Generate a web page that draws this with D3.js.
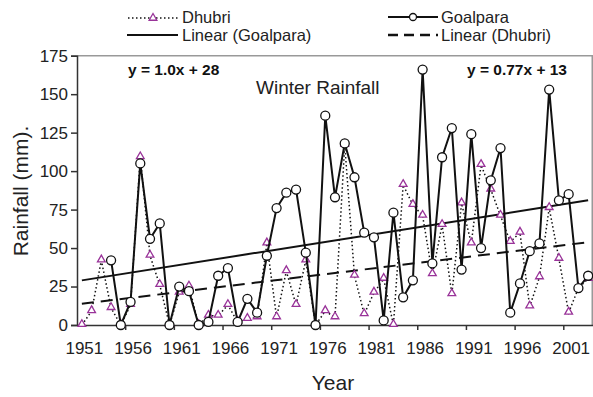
<!DOCTYPE html>
<html>
<head>
<meta charset="utf-8">
<style>
    body { margin: 0; background: white; }
    svg { font-family: 'Liberation Sans', Arial, sans-serif; }
</style>
</head>
<body>
<svg width="593" height="397"></svg>
<script src="https://d3js.org/d3.v7.min.js"></script>
<script>
    // years 1951..2003 (53 categories)
    let years = d3.range(1951, 2004)
    let labelYears = [1951, 1956, 1961, 1966, 1971, 1976, 1981, 1986, 1991, 1996, 2001]

    // Goalpara winter rainfall (mm), no record for 1951-53
    let goalpara = [null, null, null, 42, 0, 15, 105, 56, 66, 0,
        25, 22, 0, 2, 32, 37, 2, 17, 8, 45,
        76, 86, 88, 47, 0, 136, 83, 118, 96, 60,
        57, 3, 73, 18, 29, 166, 40, 109, 128, 36,
        124, 50, 94, 115, 8, 27, 48, 53, 153, 81,
        85, 24, 32]

    // Dhubri winter rainfall (mm)
    let dhubri = [0, 9, 42, 11, 0, 13, 109, 45, 26, 0,
        21, 25, 0, 6, 6, 13, 2, 4, 5, 53,
        5, 35, 13, 42, 0, 9, 5, 117, 32, 7,
        21, 30, 0, 91, 78, 71, 33, 65, 20, 79,
        53, 104, 88, 71, 54, 60, 12, 31, 76, 43,
        8, 24, 30]

    // trendline coefficients shown on the chart (x = category number)
    let trendGoalpara = [1.0, 28]
    let trendDhubri = [0.77, 13]

    let svg = d3.select("svg")
    let plotLeft = 77, plotRight = 593, plotTop = 55.7, plotBottom = 325

    let x = d3.scaleBand().domain(years).range([plotLeft, plotRight])
    let cx = d => x(d) + x.bandwidth() / 2
    let y = d3.scaleLinear().domain([0, 175]).range([plotBottom, plotTop])

    // plot frame (top + right)
    svg.append("path")
        .attr("d", `M${plotLeft},${plotTop}H${plotRight - 0.75}V${plotBottom}`)
        .attr("fill", "none")
        .attr("stroke", "#999")
        .attr("stroke-width", 1.5)

    // y axis
    let yAxis = svg.append("g")
        .attr("transform", `translate(${plotLeft},0)`)
        .call(d3.axisLeft(y).tickValues(d3.range(0, 176, 25)).tickSize(6).tickPadding(3))
    yAxis.selectAll("text").attr("font-size", 17).attr("fill", "#222")
    yAxis.selectAll("line, path").attr("stroke", "#333").attr("stroke-width", 1.5)

    // x axis: labels on categories, ticks between categories
    let xAxis = svg.append("g")
        .attr("transform", `translate(0,${plotBottom})`)
        .call(d3.axisBottom(x).tickValues(labelYears).tickSize(0).tickPadding(17))
    xAxis.selectAll("text").attr("font-size", 17).attr("fill", "#222").attr("dx", 2.5)
    xAxis.select(".domain").attr("stroke", "#333").attr("stroke-width", 1.5)
    xAxis.selectAll(".boundary")
        .data(labelYears.slice(1))
        .join("line")
        .attr("x1", d => x(d)).attr("x2", d => x(d))
        .attr("y1", 0).attr("y2", 5)
        .attr("stroke", "#333").attr("stroke-width", 1.5)

    // axis titles
    svg.append("text")
        .attr("transform", "translate(28,191) rotate(-90)")
        .attr("text-anchor", "middle")
        .attr("font-size", 21).attr("fill", "#222")
        .text("Rainfall (mm).")
    svg.append("text")
        .attr("x", 333).attr("y", 390)
        .attr("text-anchor", "middle")
        .attr("font-size", 21).attr("fill", "#222")
        .text("Year")

    // trendlines
    let trendLine = coef => [1, years.length].map(i => [cx(years[i - 1]), y(coef[0] * i + coef[1])])
    svg.append("path")
        .attr("d", d3.line()(trendLine(trendGoalpara)))
        .attr("stroke", "#111").attr("stroke-width", 2).attr("fill", "none")
    svg.append("path")
        .attr("d", d3.line()(trendLine(trendDhubri)))
        .attr("stroke", "#111").attr("stroke-width", 2).attr("fill", "none")
        .attr("stroke-dasharray", "12,7")

    let tri = d3.symbol().type(d3.symbolTriangle).size(26)

    // Dhubri series
    let line = d3.line()
        .defined(d => d[1] != null)
        .x(d => cx(d[0]))
        .y(d => y(d[1]))
    let dh = years.map((yr, i) => [yr, dhubri[i]])
    svg.append("path")
        .attr("d", line(dh))
        .attr("fill", "none").attr("stroke", "#111")
        .attr("stroke-width", 1.5).attr("stroke-dasharray", "1.5,2.5")
    svg.append("g").selectAll("path")
        .data(dh)
        .join("path")
        .attr("d", tri)
        .attr("transform", d => `translate(${cx(d[0])},${y(d[1]) - 0.8})`)
        .attr("fill", "white").attr("stroke", "#993399").attr("stroke-width", 1.3)

    // Goalpara series
    let gp = years.map((yr, i) => [yr, goalpara[i]])
    svg.append("path")
        .attr("d", line(gp))
        .attr("fill", "none").attr("stroke", "#111").attr("stroke-width", 2)
    svg.append("g").selectAll("circle")
        .data(gp.filter(d => d[1] != null))
        .join("circle")
        .attr("cx", d => cx(d[0])).attr("cy", d => y(d[1]))
        .attr("r", 4.5)
        .attr("fill", "white").attr("stroke", "#111").attr("stroke-width", 1.3)

    // equations and title
    svg.append("text")
        .attr("x", 128).attr("y", 75)
        .attr("font-size", 15.5).attr("font-weight", "bold").attr("fill", "#111")
        .text("y = 1.0x + 28")
    svg.append("text")
        .attr("x", 467).attr("y", 75)
        .attr("font-size", 15.5).attr("font-weight", "bold").attr("fill", "#111")
        .text("y = 0.77x + 13")
    svg.append("text")
        .attr("x", 256).attr("y", 94)
        .attr("font-size", 19).attr("fill", "#222")
        .text("Winter Rainfall")

    // legend
    let lg = svg.append("g").attr("font-size", 16.5).attr("fill", "#222")
    lg.append("line").attr("x1", 128).attr("x2", 178).attr("y1", 18).attr("y2", 18)
        .attr("stroke", "#111").attr("stroke-width", 1.3).attr("stroke-dasharray", "1.5,2.5")
    lg.append("path").attr("d", tri).attr("transform", "translate(153,18)")
        .attr("fill", "white").attr("stroke", "#993399").attr("stroke-width", 1.3)
    lg.append("text").attr("x", 182).attr("y", 22.5).text("Dhubri")

    lg.append("line").attr("x1", 127).attr("x2", 178).attr("y1", 35).attr("y2", 35)
        .attr("stroke", "#111").attr("stroke-width", 2)
    lg.append("text").attr("x", 182).attr("y", 41).text("Linear (Goalpara)")

    lg.append("line").attr("x1", 388).attr("x2", 438).attr("y1", 17).attr("y2", 17)
        .attr("stroke", "#111").attr("stroke-width", 2)
    lg.append("circle").attr("cx", 413).attr("cy", 17).attr("r", 3.5)
        .attr("fill", "white").attr("stroke", "#111").attr("stroke-width", 1.3)
    lg.append("text").attr("x", 441).attr("y", 22.5).text("Goalpara")

    lg.append("line").attr("x1", 388).attr("x2", 438).attr("y1", 35).attr("y2", 35)
        .attr("stroke", "#111").attr("stroke-width", 2.5).attr("stroke-dasharray", "10,6")
    lg.append("text").attr("x", 441).attr("y", 41).text("Linear (Dhubri)")
</script>
</body>
</html>
